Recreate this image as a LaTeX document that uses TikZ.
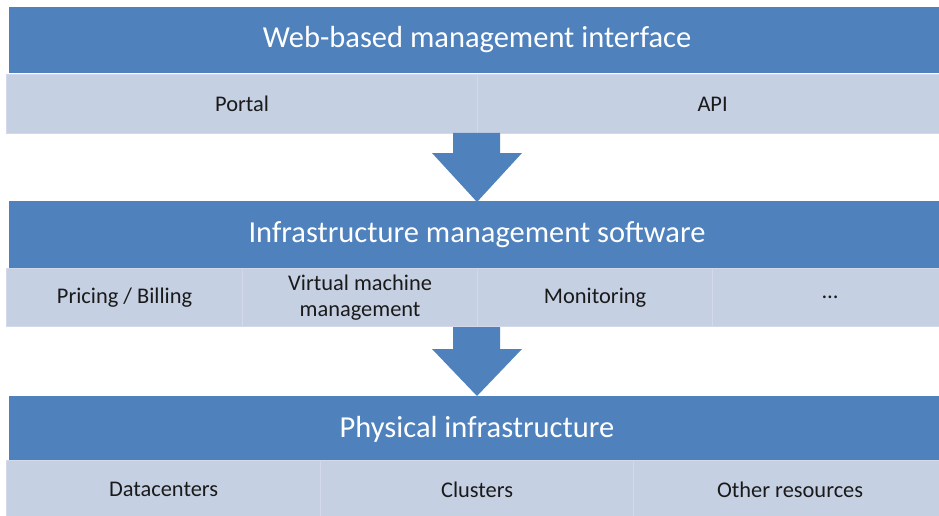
\documentclass[tikz,border=0pt]{standalone}
\usepackage{fontspec}
\setmainfont{Carlito}
\definecolor{bandblue}{HTML}{4F81BD}
\definecolor{celllight}{HTML}{C5D0E3}
\definecolor{celledge}{HTML}{D3D9EA}
\definecolor{celltext}{HTML}{1A1A1A}
\tikzset{
  band/.style={rectangle, fill=bandblue, draw=none, anchor=north west, inner sep=0pt,
    minimum height=#1},
  bandtitle/.style={text=white, font=\fontsize{30.5}{34}\selectfont},
  cell/.style={rectangle, fill=celllight, draw=celledge, line width=1.2pt, anchor=north west,
    inner sep=0pt, minimum height=#1, text=celltext, align=center,
    font=\fontsize{22.4}{25}\selectfont},
  blockarrow/.style={fill=bandblue, draw=none}
}
\begin{document}
\begin{tikzpicture}[x=1pt, y=-1pt]
\useasboundingbox (0,0) rectangle (939,516);
\begin{scope}
\clip (0,0) rectangle (939,516);
% top layer
\node[band=66pt, minimum width=940pt] (web) at (9,7) {};
\node[bandtitle] (webt) at (477,40) {Web-based management interface};
\node[cell=59pt, minimum width=471pt] (portal) at (6,74) {Portal};
\node[cell=59pt, minimum width=470pt] (api) at (477,74) {API};
% middle layer
\node[band=67pt, minimum width=940pt] (infra) at (9,201) {};
\node[bandtitle] (infrat) at (477,235) {Infrastructure management software};
\node[cell=58pt, minimum width=236pt] (pricing) at (6,268) {Pricing / Billing};
\node[cell=58pt, minimum width=235pt] (vmm) at (242,268) {Virtual machine\\[1pt]management};
\node[cell=58pt, minimum width=235pt] (monitor) at (477,268) {Monitoring};
\node[cell=58pt, minimum width=235pt] (more) at (712,268) {\dots};
% bottom layer
\node[band=64pt, minimum width=940pt] (phys) at (9,396) {};
\node[bandtitle] (physt) at (477,429) {Physical infrastructure};
\node[cell=58pt, minimum width=314pt] (dc) at (6,460) {Datacenters};
\node[cell=58pt, minimum width=313pt] (clusters) at (320,460) {Clusters};
\node[cell=58pt, minimum width=313pt] (other) at (633,460) {Other resources};
\end{scope}
% block arrows between layers
\fill[blockarrow] (453,133) -- (500,133) -- (500,153) -- (522,153) -- (477,202)
  -- (432,153) -- (453,153) -- cycle;
\fill[blockarrow] (453,327) -- (500,327) -- (500,349) -- (522,349) -- (477,396)
  -- (432,349) -- (453,349) -- cycle;
\end{tikzpicture}
\end{document}
